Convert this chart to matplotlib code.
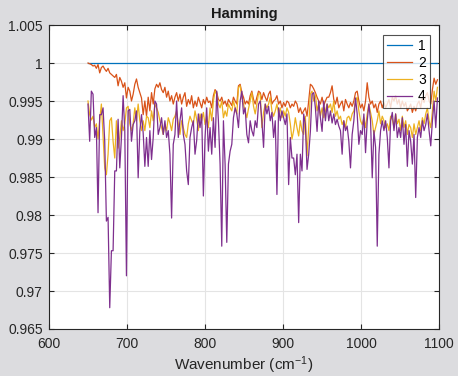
import numpy as np
import matplotlib
matplotlib.use("Agg")
import matplotlib.pyplot as plt

plt.rcParams['font.family'] = ['Liberation Sans', 'DejaVu Sans']
plt.rcParams['mathtext.default'] = 'regular'

# Window response ratios per wavenumber sample
series_names = ["1", "2", "3", "4"]

ratio_2 = [
    1.0000, 0.9999, 0.9998, 0.9996, 0.9997, 0.9993, 0.9998, 0.9987, 0.9994, 0.9996,
    0.9992, 0.9989, 0.9993, 0.9987, 0.9985, 0.9983, 0.9981, 0.9985, 0.9970, 0.9981,
    0.9976, 0.9968, 0.9974, 0.9954, 0.9968, 0.9963, 0.9950, 0.9959, 0.9972, 0.9979,
    0.9968, 0.9961, 0.9954, 0.9932, 0.9950, 0.9930,
    0.9955, 0.9937, 0.9961, 0.9946, 0.9966, 0.9972, 0.9968, 0.9974, 0.9965, 0.9961,
    0.9968, 0.9955, 0.9963, 0.9950, 0.9957, 0.9946, 0.9955, 0.9961, 0.9950, 0.9959,
    0.9946, 0.9955, 0.9961, 0.9943, 0.9952, 0.9946, 0.9957, 0.9941, 0.9950, 0.9943,
    0.9955, 0.9948, 0.9941, 0.9952, 0.9946, 0.9955,
    0.9948, 0.9950, 0.9941, 0.9957, 0.9965, 0.9961, 0.9952, 0.9950, 0.9955, 0.9946,
    0.9950, 0.9943, 0.9952, 0.9948, 0.9944, 0.9955, 0.9950, 0.9946, 0.9970, 0.9972,
    0.9961, 0.9955, 0.9946, 0.9950, 0.9946, 0.9957, 0.9963, 0.9952, 0.9946, 0.9955,
    0.9963, 0.9961, 0.9952, 0.9961, 0.9955, 0.9950,
    0.9959, 0.9963, 0.9946, 0.9950, 0.9952, 0.9957, 0.9946, 0.9950, 0.9941, 0.9948,
    0.9943, 0.9950, 0.9948, 0.9941, 0.9946, 0.9943, 0.9950, 0.9946, 0.9935, 0.9941,
    0.9933, 0.9937, 0.9941, 0.9930, 0.9950, 0.9972, 0.9970, 0.9966, 0.9961, 0.9955,
    0.9950, 0.9946, 0.9955, 0.9944, 0.9950, 0.9955,
    0.9955, 0.9961, 0.9970, 0.9952, 0.9946, 0.9955, 0.9941, 0.9946, 0.9950, 0.9937,
    0.9952, 0.9946, 0.9941, 0.9948, 0.9943, 0.9950, 0.9961, 0.9963, 0.9950, 0.9941,
    0.9946, 0.9937, 0.9950, 0.9974, 0.9955, 0.9946, 0.9950, 0.9941, 0.9946, 0.9935,
    0.9946, 0.9950, 0.9941, 0.9948, 0.9941,
    0.9946, 0.9952, 0.9941, 0.9955, 0.9950, 0.9957, 0.9946, 0.9952, 0.9941, 0.9950,
    0.9943, 0.9948, 0.9937, 0.9941, 0.9946, 0.9935, 0.9943, 0.9937, 0.9946, 0.9950,
    0.9941, 0.9955, 0.9948, 0.9957, 0.9961, 0.9950, 0.9946, 0.9965, 0.9980, 0.9972,
    0.9978,
]

ratio_3 = [
    0.9950, 0.9932, 0.9925, 0.9930, 0.9915, 0.9920, 0.9900, 0.9925, 0.9946, 0.9905,
    0.9862, 0.9853, 0.9880, 0.9924, 0.9928, 0.9897, 0.9875, 0.9924, 0.9888, 0.9902,
    0.9924, 0.9911, 0.9920, 0.9941, 0.9943, 0.9920, 0.9911, 0.9920, 0.9941, 0.9924,
    0.9946, 0.9924, 0.9911, 0.9924, 0.9911, 0.9930,
    0.9928, 0.9915, 0.9937, 0.9924, 0.9946, 0.9941, 0.9935, 0.9924, 0.9915, 0.9906,
    0.9919, 0.9911, 0.9928, 0.9921, 0.9911, 0.9926, 0.9930, 0.9937, 0.9920, 0.9906,
    0.9924, 0.9915, 0.9906, 0.9902, 0.9920, 0.9930, 0.9924, 0.9919, 0.9937, 0.9926,
    0.9911, 0.9933, 0.9924, 0.9935, 0.9919, 0.9930,
    0.9915, 0.9941, 0.9924, 0.9950, 0.9963, 0.9959, 0.9946, 0.9941, 0.9950, 0.9928,
    0.9937, 0.9930, 0.9946, 0.9941, 0.9937, 0.9950, 0.9941, 0.9933, 0.9968, 0.9970,
    0.9955, 0.9946, 0.9937, 0.9928, 0.9940, 0.9950, 0.9961, 0.9943, 0.9933, 0.9946,
    0.9960, 0.9959, 0.9915, 0.9935, 0.9946, 0.9941,
    0.9946, 0.9955, 0.9937, 0.9930, 0.9937, 0.9946, 0.9933, 0.9941, 0.9928, 0.9937,
    0.9930, 0.9941, 0.9935, 0.9920, 0.9900, 0.9911, 0.9928, 0.9915, 0.9904, 0.9924,
    0.9911, 0.9906, 0.9930, 0.9878, 0.9915, 0.9959, 0.9963, 0.9950, 0.9959, 0.9937,
    0.9946, 0.9930, 0.9941, 0.9928, 0.9937, 0.9946,
    0.9941, 0.9946, 0.9935, 0.9950, 0.9930, 0.9937, 0.9926, 0.9930, 0.9919, 0.9924,
    0.9915, 0.9928, 0.9930, 0.9924, 0.9933, 0.9937, 0.9950, 0.9955, 0.9937, 0.9924,
    0.9919, 0.9928, 0.9915, 0.9933, 0.9946, 0.9935, 0.9924, 0.9906, 0.9915, 0.9924,
    0.9937, 0.9920, 0.9930, 0.9924, 0.9915,
    0.9920, 0.9911, 0.9930, 0.9926, 0.9915, 0.9933, 0.9920, 0.9926, 0.9911, 0.9930,
    0.9915, 0.9924, 0.9906, 0.9919, 0.9915, 0.9902, 0.9920, 0.9906, 0.9915, 0.9924,
    0.9911, 0.9928, 0.9920, 0.9933, 0.9941, 0.9924, 0.9915, 0.9937, 0.9963, 0.9950,
    0.9968,
]

ratio_4 = [
    0.9946, 0.9897, 0.9963, 0.9959, 0.9902, 0.9915, 0.9803, 0.9932, 0.9932, 0.9941,
    0.9897, 0.9792, 0.9797, 0.9678, 0.9753, 0.9753, 0.9858, 0.9858, 0.9926, 0.9862,
    0.9902, 0.9957, 0.9911, 0.9720, 0.9937, 0.9939, 0.9897, 0.9919, 0.9924, 0.9937,
    0.9849, 0.9911, 0.9932, 0.9908, 0.9864, 0.9902,
    0.9864, 0.9911, 0.9873, 0.9902, 0.9950, 0.9946, 0.9906, 0.9915, 0.9928, 0.9906,
    0.9924, 0.9902, 0.9911, 0.9880, 0.9796, 0.9893, 0.9906, 0.9950, 0.9902, 0.9924,
    0.9941, 0.9906, 0.9893, 0.9858, 0.9840, 0.9902, 0.9915, 0.9924, 0.9880, 0.9898,
    0.9933, 0.9915, 0.9933, 0.9825, 0.9902, 0.9941,
    0.9884, 0.9915, 0.9880, 0.9928, 0.9889, 0.9963, 0.9924, 0.9867, 0.9759, 0.9924,
    0.9867, 0.9764, 0.9867, 0.9884, 0.9893, 0.9928, 0.9941, 0.9933, 0.9915, 0.9950,
    0.9963, 0.9933, 0.9941, 0.9906, 0.9895, 0.9924, 0.9911, 0.9904, 0.9924, 0.9915,
    0.9946, 0.9950, 0.9924, 0.9889, 0.9946, 0.9933,
    0.9943, 0.9924, 0.9935, 0.9902, 0.9924, 0.9827, 0.9941, 0.9924, 0.9937, 0.9928,
    0.9919, 0.9933, 0.9840, 0.9902, 0.9875, 0.9875, 0.9853, 0.9880, 0.9790, 0.9880,
    0.9858, 0.9933, 0.9919, 0.9860, 0.9880, 0.9910, 0.9959, 0.9961, 0.9941, 0.9910,
    0.9950, 0.9928, 0.9910, 0.9950, 0.9924, 0.9946,
    0.9924, 0.9937, 0.9921, 0.9933, 0.9919, 0.9926, 0.9917, 0.9911, 0.9880, 0.9924,
    0.9911, 0.9917, 0.9897, 0.9862, 0.9906, 0.9924, 0.9954, 0.9933, 0.9893, 0.9911,
    0.9906, 0.9933, 0.9882, 0.9924, 0.9946, 0.9924, 0.9849, 0.9911, 0.9889, 0.9759,
    0.9880, 0.9911, 0.9924, 0.9911, 0.9924,
    0.9902, 0.9862, 0.9924, 0.9935, 0.9911, 0.9933, 0.9902, 0.9915, 0.9902, 0.9928,
    0.9893, 0.9919, 0.9864, 0.9911, 0.9897, 0.9867, 0.9906, 0.9823, 0.9902, 0.9915,
    0.9902, 0.9924, 0.9911, 0.9919, 0.9933, 0.9911, 0.9891, 0.9924, 0.9950, 0.9915,
    0.9954,
]

wavenumber = np.linspace(650, 1098, len(ratio_4))
ratio_1 = np.ones_like(wavenumber)

x_ticks = [600, 700, 800, 900, 1000, 1100]
y_ticks = [0.965, 0.97, 0.975, 0.98, 0.985, 0.99, 0.995, 1.0, 1.005]
y_tick_labels = ["0.965", "0.97", "0.975", "0.98", "0.985", "0.99", "0.995", "1", "1.005"]

colors = ["#0072BD", "#D95319", "#EDB120", "#7E2F8E"]
bg = "#dcdcdf"

fig = plt.figure(figsize=(4.58, 3.76), dpi=100, facecolor=bg)
ax = fig.add_axes([0.107, 0.125, 0.8515, 0.8085])
ax.set_facecolor("white")

for vals, c, name in zip([ratio_1, ratio_2, ratio_3, ratio_4], colors, series_names):
    ax.plot(wavenumber, vals, color=c, lw=0.9, label=name)

ax.set_xlim(600, 1100)
ax.set_ylim(0.965, 1.005)
ax.set_xticks(x_ticks)
ax.set_xticklabels([str(t) for t in x_ticks])
ax.set_yticks(y_ticks)
ax.set_yticklabels(y_tick_labels)

ax.grid(True, color="#e4e4e4", lw=0.8)
ax.set_axisbelow(True)
for s in ax.spines.values():
    s.set_color("#262626")
    s.set_linewidth(0.8)
ax.tick_params(direction="in", top=True, right=True, length=3.5, width=0.8,
               color="#262626", labelsize=10, labelcolor="#262626")
ax.tick_params(axis="x", pad=6)
ax.tick_params(axis="y", pad=4.5)

ax.set_title("Hamming", fontsize=10.5, fontweight="bold", color="#1a1a1a", pad=5)
ax.set_xlabel("Wavenumber (cm$^{-1}$)", fontsize=11, color="#262626", labelpad=2.5)

leg = ax.legend(loc="upper right", fontsize=10, frameon=True, fancybox=False,
                bbox_to_anchor=(430 / 458, 1 - 35 / 376),
                bbox_transform=fig.transFigure, borderaxespad=0,
                handlelength=1.8, handletextpad=0.4,
                labelspacing=0.2, borderpad=0.3)
leg.get_frame().set_edgecolor("#262626")
leg.get_frame().set_linewidth(0.8)

fig.savefig("out.png", dpi=100, facecolor=bg)
